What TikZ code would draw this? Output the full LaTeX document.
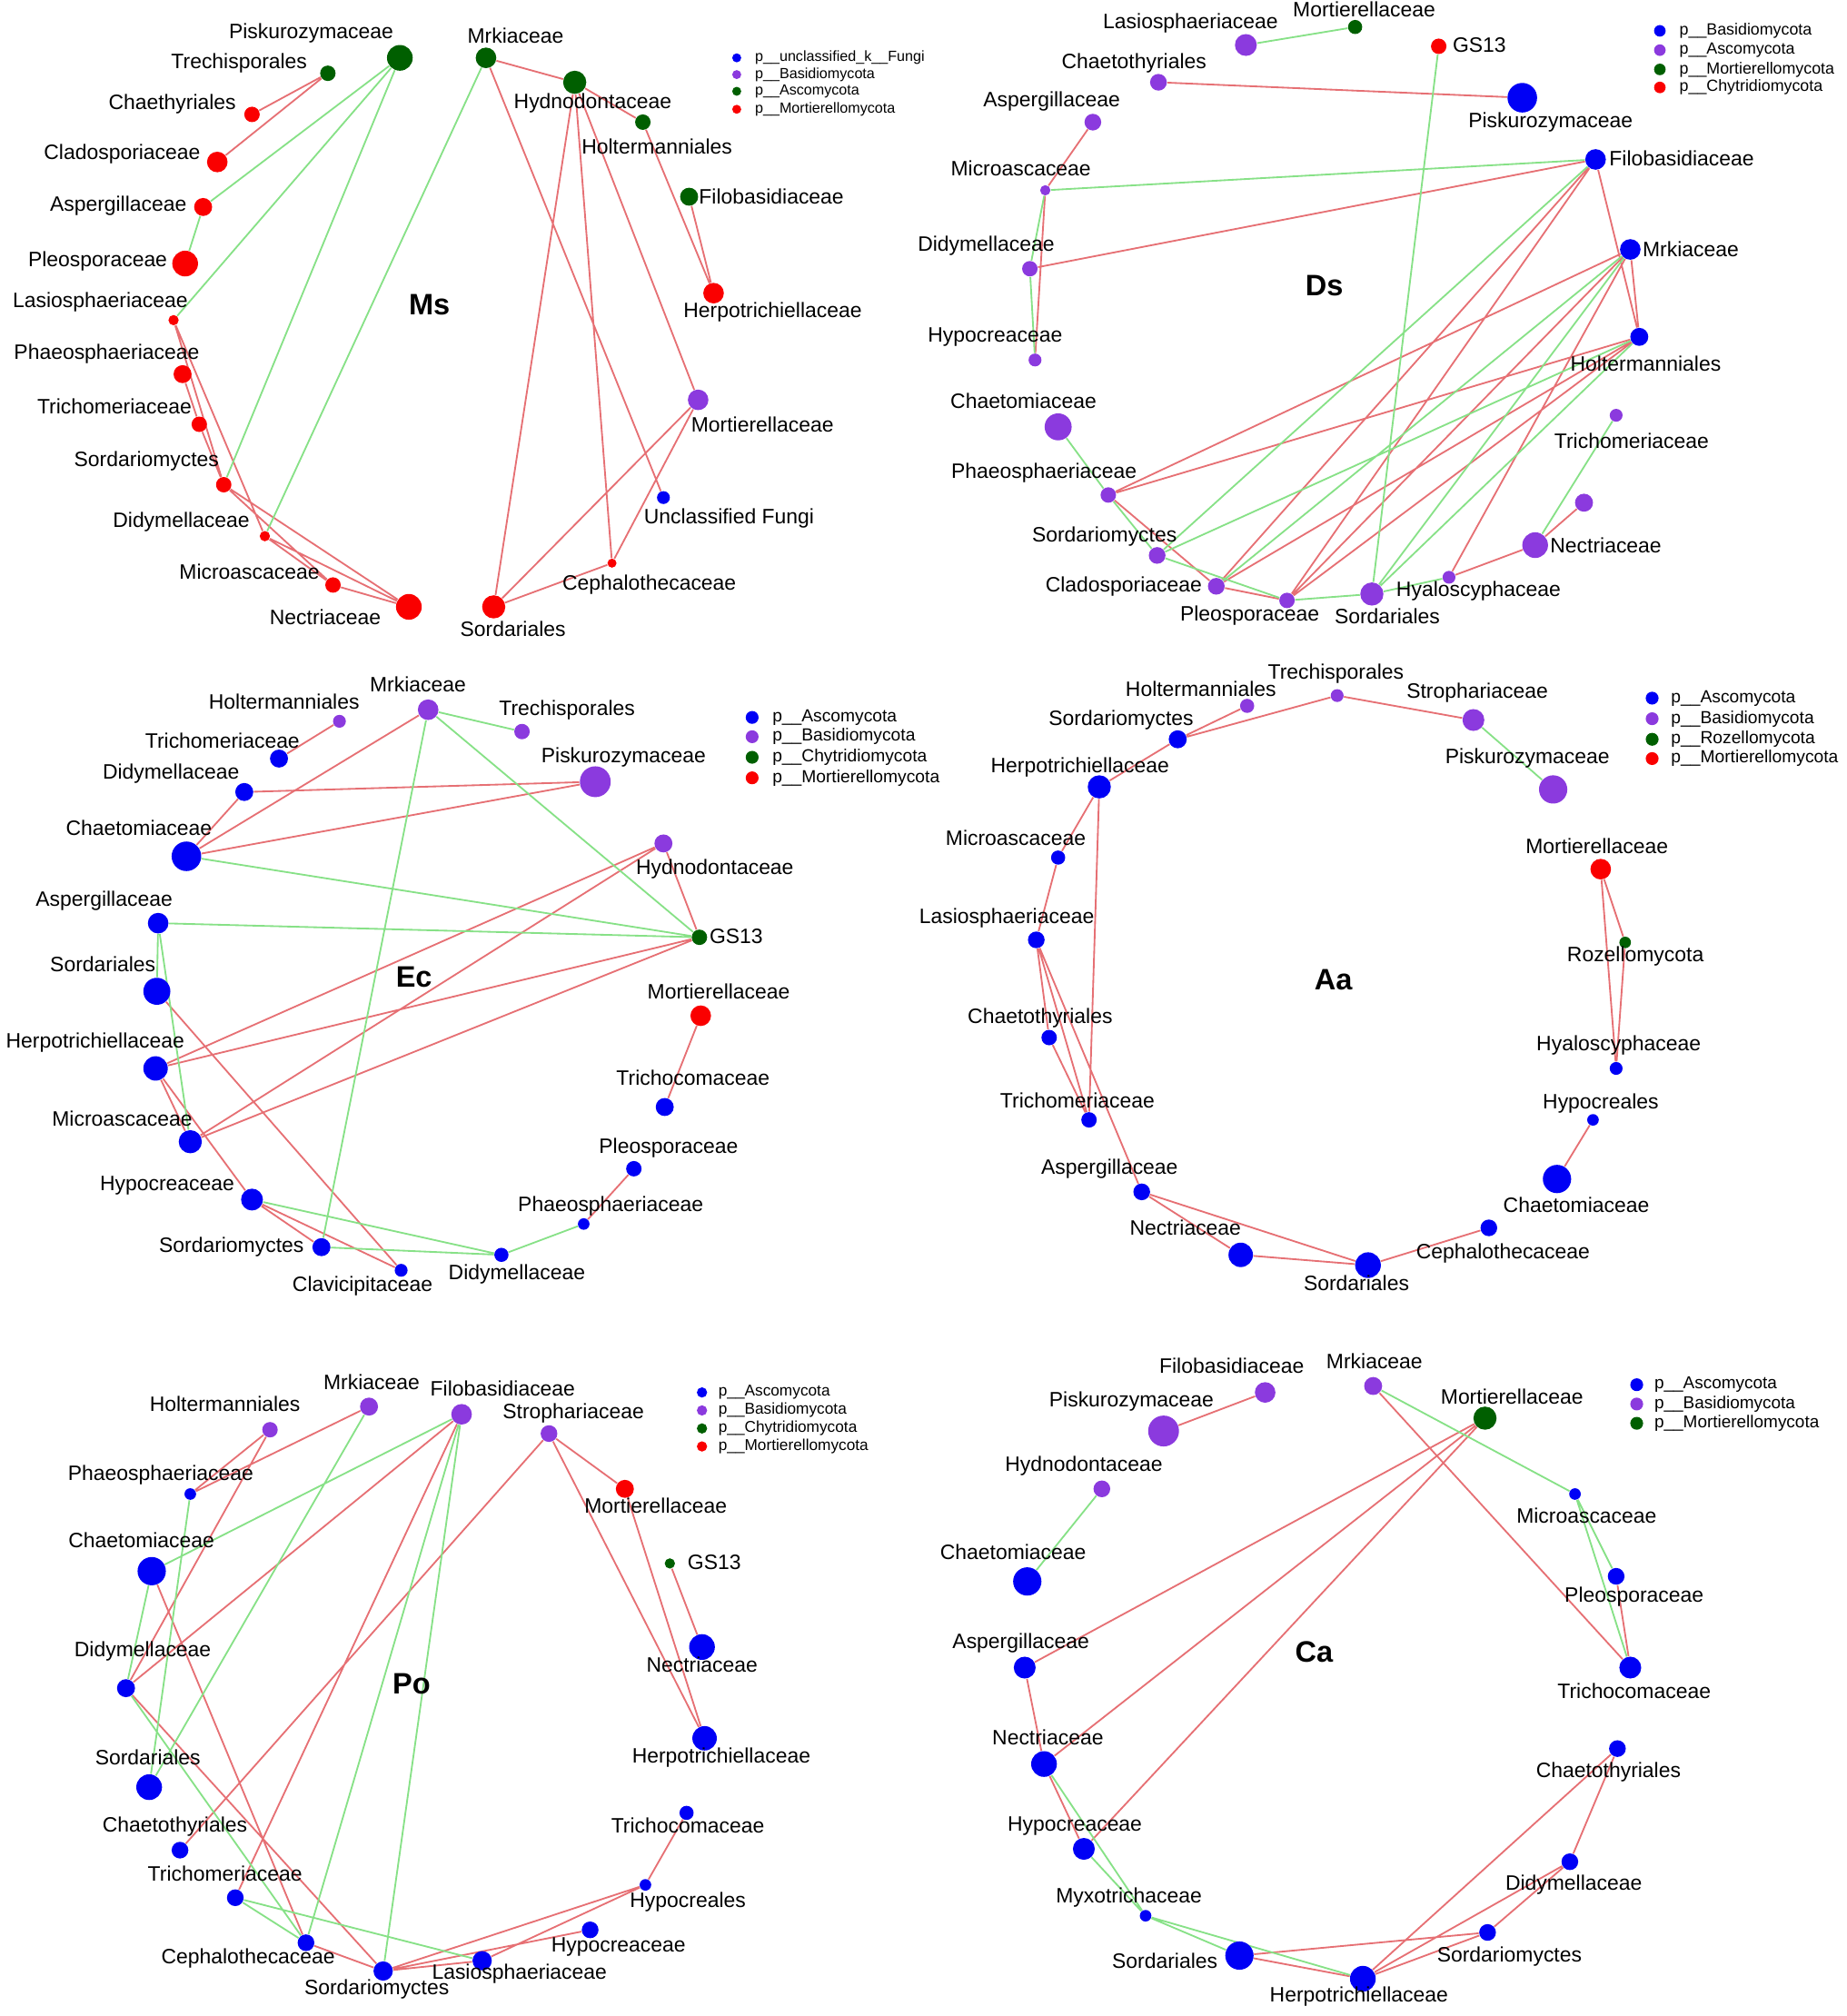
\documentclass[tikz,border=0pt]{standalone}
\usepackage{fontspec}
\setmainfont{Liberation Sans}
\usetikzlibrary{positioning}
\definecolor{fblue}{RGB}{0,0,245}
\definecolor{fpurple}{RGB}{139,58,222}
\definecolor{fgreen}{RGB}{0,95,0}
\definecolor{fred}{RGB}{250,0,0}
\definecolor{ered}{RGB}{230,112,116}
\definecolor{egreen}{RGB}{135,225,135}
\pgfdeclarelayer{edgelayer}
\pgfsetlayers{edgelayer,main}
\tikzset{
  vtx/.style={circle,inner sep=0pt,draw=none},
  vb/.style={vtx,fill=fblue,minimum size=#1},
  vp/.style={vtx,fill=fpurple,minimum size=#1},
  vg/.style={vtx,fill=fgreen,minimum size=#1},
  vr/.style={vtx,fill=fred,minimum size=#1},
  txt/.style={font=\fontsize{8.1}{9.5}\selectfont,inner sep=0.75pt},
  ttl/.style={font=\bfseries\fontsize{11.5}{13}\selectfont,inner sep=0.75pt},
  lgd/.style={anchor=west,inner sep=0.5pt,font=\fontsize{#1}{#1}\selectfont},
  redge/.style={draw=ered,line width=0.65pt},
  gedge/.style={draw=egreen,line width=0.65pt}
}
\begin{document}
\begin{tikzpicture}[x=0.5pt,y=0.5pt,yscale=-1,xscale=1]
\useasboundingbox (0,0) rectangle (1436,1568);

%%%%%%%% Ms
%Shape: Circle
\node[vg=10pt] (msPis) at (311,45) {};
\node[vg=6pt] (msTre) at (255,57) {};
\node[vr=6pt] (msCha) at (196,89) {};
\node[vr=8pt] (msCla) at (169,126) {};
\node[vr=7pt] (msAsp) at (158,161) {};
\node[vr=10pt] (msPle) at (144,205) {};
\node[vr=4pt] (msLas) at (135,249) {};
\node[vr=7pt] (msPha) at (142,291) {};
\node[vr=6pt] (msTri) at (155,330) {};
\node[vr=6pt] (msSom) at (174,377) {};
\node[vr=4pt] (msDid) at (206,417) {};
\node[vr=6pt] (msMic) at (259,455) {};
\node[vr=10pt] (msNec) at (318,472) {};
\node[vr=9pt] (msSol) at (384,472) {};
\node[vr=3.5pt] (msCep) at (476,438) {};
\node[vb=5pt] (msUnc) at (516,387) {};
\node[vp=8pt] (msMor) at (543,311) {};
\node[vr=8pt] (msHer) at (555,228) {};
\node[vg=7pt] (msFil) at (536,153) {};
\node[vg=6pt] (msHol) at (500,95) {};
\node[vg=9pt] (msHyd) at (447,64) {};
\node[vg=8pt] (msMrk) at (378,45) {};
% Text Node
\node[txt] (msPisT) at (242,26) {Piskurozymaceae};
\node[txt] (msTreT) at (186,49) {Trechisporales};
\node[txt] (msChaT) at (134,81) {Chaethyriales};
\node[txt] (msClaT) at (95,120) {Cladosporiaceae};
\node[txt] (msAspT) at (92,160) {Aspergillaceae};
\node[txt] (msPleT) at (76,203) {Pleosporaceae};
\node[txt] (msLasT) at (78,235) {Lasiosphaeriaceae};
\node[txt] (msPhaT) at (83,275) {Phaeosphaeriaceae};
\node[txt] (msTriT) at (89,316) {Trichomeriaceae};
\node[txt] (msSomT) at (114,359) {Sordariomyctes};
\node[txt] (msDidT) at (141,406) {Didymellaceae};
\node[txt] (msMicT) at (194,445) {Microascaceae};
\node[txt] (msNecT) at (253,480) {Nectriaceae};
\node[txt] (msSolT) at (399,489) {Sordariales};
\node[txt] (msCepT) at (505,455) {Cephalothecaceae};
\node[txt] (msUncT) at (567,403) {Unclassified Fungi};
\node[txt] (msMorT) at (593,330) {Mortierellaceae};
\node[txt] (msHerT) at (601,243) {Herpotrichiellaceae};
\node[txt] (msFilT) at (600,153) {Filobasidiaceae};
\node[txt] (msHolT) at (511,114) {Holtermanniales};
\node[txt] (msHydT) at (461,80) {Hydnodontaceae};
\node[txt] (msMrkT) at (401,28) {Mrkiaceae};
\node[ttl] (msName) at (334,237) {Ms};
% legend
\node[vb=3.5pt] (msK1) at (573,45) {};
\node[vp=3.5pt] (msK2) at (573,58) {};
\node[vg=3.5pt] (msK3) at (573,71) {};
\node[vr=3.5pt] (msK4) at (573,85) {};
\node[lgd=5.7,right=4.5pt of msK1] (msK1t) {p\_\_unclassified\_k\_\_Fungi};
\node[lgd=5.7,right=4.5pt of msK2] (msK2t) {p\_\_Basidiomycota};
\node[lgd=5.7,right=4.5pt of msK3] (msK3t) {p\_\_Ascomycota};
\node[lgd=5.7,right=4.5pt of msK4] (msK4t) {p\_\_Mortierellomycota};

%%%%%%%% Ds
%Shape: Circle
\node[vp=8.5pt] (dsLas) at (969,35) {};
\node[vg=5.5pt] (dsMor) at (1054,21) {};
\node[vr=6pt] (dsGS) at (1119,36) {};
\node[vp=6.5pt] (dsCht) at (901,64) {};
\node[vb=11.5pt] (dsPis) at (1184,76) {};
\node[vp=6.5pt] (dsAsp) at (850,95) {};
\node[vp=4pt] (dsMic) at (813,148) {};
\node[vb=8pt] (dsFil) at (1241,124) {};
\node[vp=6pt] (dsDid) at (801,209) {};
\node[vb=8pt] (dsMrk) at (1268,194) {};
\node[vp=5pt] (dsHyp) at (805,280) {};
\node[vb=7pt] (dsHol) at (1275,262) {};
\node[vp=10.5pt] (dsChm) at (823,332) {};
\node[vp=5pt] (dsTri) at (1257,323) {};
\node[vp=6pt] (dsPha) at (862,385) {};
\node[vp=7pt] (dsUnk) at (1232,391) {};
\node[vp=10pt] (dsNec) at (1194,424) {};
\node[vp=6.5pt] (dsSom) at (900,432) {};
\node[vp=6.5pt] (dsCla) at (946,456) {};
\node[vp=5pt] (dsHya) at (1127,449) {};
\node[vp=6pt] (dsPle) at (1001,467) {};
\node[vp=9pt] (dsSol) at (1067,462) {};
% Text Node
\node[txt] (dsLasT) at (926,18) {Lasiosphaeriaceae};
\node[txt] (dsMorT) at (1061,7) {Mortierellaceae};
\node[txt,anchor=west] (dsGST) at (1128,35) {GS13};
\node[txt] (dsChtT) at (882,49) {Chaetothyriales};
\node[txt] (dsPisT) at (1206,95) {Piskurozymaceae};
\node[txt] (dsAspT) at (818,79) {Aspergillaceae};
\node[txt] (dsMicT) at (794,131) {Microascaceae};
\node[txt] (dsFilT) at (1308,123) {Filobasidiaceae};
\node[txt] (dsDidT) at (767,191) {Didymellaceae};
\node[txt] (dsMrkT) at (1315,194) {Mrkiaceae};
\node[txt] (dsHypT) at (774,262) {Hypocreaceae};
\node[txt] (dsHolT) at (1280,283) {Holtermanniales};
\node[txt] (dsChmT) at (796,312) {Chaetomiaceae};
\node[txt] (dsTriT) at (1269,343) {Trichomeriaceae};
\node[txt] (dsPhaT) at (812,368) {Phaeosphaeriaceae};
\node[txt] (dsSomT) at (859,417) {Sordariomyctes};
\node[txt] (dsNecT) at (1249,424) {Nectriaceae};
\node[txt] (dsClaT) at (874,456) {Cladosporiaceae};
\node[txt] (dsHyaT) at (1150,460) {Hyaloscyphaceae};
\node[txt] (dsPleT) at (972,479) {Pleosporaceae};
\node[txt] (dsSolT) at (1079,479) {Sordariales};
\node[ttl] (dsName) at (1030,222) {Ds};
% legend
\node[vb=4.5pt] (dsK1) at (1291,24) {};
\node[vp=4.5pt] (dsK2) at (1291,39) {};
\node[vg=4.5pt] (dsK3) at (1291,54) {};
\node[vr=4.5pt] (dsK4) at (1291,68) {};
\node[lgd=6.3,right=4.5pt of dsK1] (dsK1t) {p\_\_Basidiomycota};
\node[lgd=6.3,right=4.5pt of dsK2] (dsK2t) {p\_\_Ascomycota};
\node[lgd=6.3,right=4.5pt of dsK3] (dsK3t) {p\_\_Mortierellomycota};
\node[lgd=6.3,right=4.5pt of dsK4] (dsK4t) {p\_\_Chytridiomycota};

%%%%%%%% Ec
%Shape: Circle
\node[vp=5pt] (ecHol) at (264,561) {};
\node[vp=8pt] (ecMrk) at (333,552) {};
\node[vp=6pt] (ecTre) at (406,569) {};
\node[vb=7pt] (ecTri) at (217,590) {};
\node[vp=12pt] (ecPis) at (463,608) {};
\node[vb=7pt] (ecDid) at (190,616) {};
\node[vb=11.5pt] (ecChm) at (145,666) {};
\node[vp=7pt] (ecHyd) at (516,656) {};
\node[vb=8pt] (ecAsp) at (123,718) {};
\node[vg=6pt] (ecGS) at (544,729) {};
\node[vb=10.5pt] (ecSol) at (122,771) {};
\node[vr=8pt] (ecMor) at (545,790) {};
\node[vb=9.5pt] (ecHer) at (121,831) {};
\node[vb=7pt] (ecTrc) at (517,861) {};
\node[vb=9pt] (ecMic) at (148,888) {};
\node[vb=6pt] (ecPle) at (493,909) {};
\node[vb=8.5pt] (ecHyp) at (196,933) {};
\node[vb=4.5pt] (ecPha) at (454,952) {};
\node[vb=7pt] (ecSom) at (250,970) {};
\node[vb=5.5pt] (ecDit) at (390,976) {};
\node[vb=5pt] (ecCla) at (312,988) {};
% Text Node
\node[txt] (ecHolT) at (221,546) {Holtermanniales};
\node[txt] (ecMrkT) at (325,532) {Mrkiaceae};
\node[txt] (ecTreT) at (441,552) {Trechisporales};
\node[txt] (ecTriT) at (173,576) {Trichomeriaceae};
\node[txt] (ecPisT) at (485,589) {Piskurozymaceae};
\node[txt] (ecDidT) at (133,602) {Didymellaceae};
\node[txt] (ecChmT) at (108,644) {Chaetomiaceae};
\node[txt] (ecHydT) at (556,676) {Hydnodontaceae};
\node[txt] (ecAspT) at (81,701) {Aspergillaceae};
\node[txt,anchor=west] (ecGST) at (550,728) {GS13};
\node[txt] (ecSolT) at (80,750) {Sordariales};
\node[txt] (ecMorT) at (559,771) {Mortierellaceae};
\node[txt] (ecHerT) at (74,811) {Herpotrichiellaceae};
\node[txt] (ecTrcT) at (539,838) {Trichocomaceae};
\node[txt] (ecMicT) at (95,870) {Microascaceae};
\node[txt] (ecPleT) at (520,893) {Pleosporaceae};
\node[txt] (ecHypT) at (130,922) {Hypocreaceae};
\node[txt] (ecPhaT) at (475,938) {Phaeosphaeriaceae};
\node[txt] (ecSomT) at (180,970) {Sordariomyctes};
\node[txt] (ecDitT) at (402,991) {Didymellaceae};
\node[txt] (ecClaT) at (282,1000) {Clavicipitaceae};
\node[ttl] (ecName) at (322,760) {Ec};
% legend
\node[vb=5pt] (ecK1) at (585,558) {};
\node[vp=5pt] (ecK2) at (585,573) {};
\node[vg=5pt] (ecK3) at (585,589) {};
\node[vr=5pt] (ecK4) at (585,605) {};
\node[lgd=6.8,right=4.5pt of ecK1] (ecK1t) {p\_\_Ascomycota};
\node[lgd=6.8,right=4.5pt of ecK2] (ecK2t) {p\_\_Basidiomycota};
\node[lgd=6.8,right=4.5pt of ecK3] (ecK3t) {p\_\_Chytridiomycota};
\node[lgd=6.8,right=4.5pt of ecK4] (ecK4t) {p\_\_Mortierellomycota};

%%%%%%%% Aa
%Shape: Circle
\node[vp=5pt] (aaTre) at (1040,541) {};
\node[vp=5.5pt] (aaHol) at (970,549) {};
\node[vp=8.5pt] (aaStr) at (1146,560) {};
\node[vb=7pt] (aaSom) at (916,575) {};
\node[vb=9pt] (aaHer) at (855,612) {};
\node[vp=11pt] (aaPis) at (1208,614) {};
\node[vr=8pt] (aaMor) at (1245,676) {};
\node[vb=5.5pt] (aaMic) at (823,667) {};
\node[vb=6.5pt] (aaLas) at (806,731) {};
\node[vg=4.5pt] (aaRoz) at (1264,733) {};
\node[vb=6pt] (aaCht) at (816,807) {};
\node[vb=5pt] (aaHya) at (1257,831) {};
\node[vb=6pt] (aaTri) at (847,871) {};
\node[vb=4.5pt] (aaHyl) at (1239,871) {};
\node[vb=11pt] (aaChm) at (1211,917) {};
\node[vb=6.5pt] (aaAsp) at (888,927) {};
\node[vb=6.5pt] (aaCep) at (1158,955) {};
\node[vb=9.5pt] (aaNec) at (965,976) {};
\node[vb=10pt] (aaSol) at (1064,984) {};
% Text Node
\node[txt] (aaTreT) at (1039,524) {Trechisporales};
\node[txt] (aaHolT) at (934,536) {Holtermanniales};
\node[txt] (aaStrT) at (1149,539) {Strophariaceae};
\node[txt] (aaSomT) at (872,560) {Sordariomyctes};
\node[txt] (aaHerT) at (840,597) {Herpotrichiellaceae};
\node[txt] (aaPisT) at (1188,590) {Piskurozymaceae};
\node[txt] (aaMorT) at (1242,658) {Mortierellaceae};
\node[txt] (aaMicT) at (790,652) {Microascaceae};
\node[txt] (aaLasT) at (783,714) {Lasiosphaeriaceae};
\node[txt] (aaRozT) at (1272,744) {Rozellomycota};
\node[txt] (aaChtT) at (809,792) {Chaetothyriales};
\node[txt] (aaHyaT) at (1259,813) {Hyaloscyphaceae};
\node[txt] (aaTriT) at (838,856) {Trichomeriaceae};
\node[txt] (aaHylT) at (1245,858) {Hypocreales};
\node[txt] (aaAspT) at (863,909) {Aspergillaceae};
\node[txt] (aaChmT) at (1226,937) {Chaetomiaceae};
\node[txt] (aaNecT) at (922,955) {Nectriaceae};
\node[txt] (aaCepT) at (1169,975) {Cephalothecaceae};
\node[txt] (aaSolT) at (1055,998) {Sordariales};
\node[ttl] (aaName) at (1037,762) {Aa};
% legend
\node[vb=5pt] (aaK1) at (1285,543) {};
\node[vp=5pt] (aaK2) at (1285,559) {};
\node[vg=5pt] (aaK3) at (1285,575) {};
\node[vr=5pt] (aaK4) at (1285,590) {};
\node[lgd=6.8,right=4pt of aaK1] (aaK1t) {p\_\_Ascomycota};
\node[lgd=6.8,right=4pt of aaK2] (aaK2t) {p\_\_Basidiomycota};
\node[lgd=6.8,right=4pt of aaK3] (aaK3t) {p\_\_Rozellomycota};
\node[lgd=6.8,right=4pt of aaK4] (aaK4t) {p\_\_Mortierellomycota};

%%%%%%%% Po
%Shape: Circle
\node[vp=6pt] (poHol) at (210,1112) {};
\node[vp=7pt] (poMrk) at (287,1094) {};
\node[vp=8pt] (poFil) at (359,1100) {};
\node[vp=6.5pt] (poStr) at (427,1115) {};
\node[vb=4.5pt] (poPha) at (148,1162) {};
\node[vr=7pt] (poMor) at (486,1158) {};
\node[vg=4pt] (poGS) at (521,1216) {};
\node[vb=11pt] (poChm) at (118,1222) {};
\node[vb=10pt] (poNec) at (546,1281) {};
\node[vb=7pt] (poDid) at (98,1313) {};
\node[vb=9.5pt] (poHer) at (548,1352) {};
\node[vb=10pt] (poSol) at (116,1390) {};
\node[vb=5.5pt] (poTrc) at (534,1410) {};
\node[vb=6.5pt] (poCht) at (140,1439) {};
\node[vb=6.5pt] (poTri) at (183,1476) {};
\node[vb=4.5pt] (poHyl) at (502,1466) {};
\node[vb=6.5pt] (poHyp) at (459,1501) {};
\node[vb=6.5pt] (poCep) at (238,1511) {};
\node[vb=7.5pt] (poLas) at (375,1525) {};
\node[vb=7.5pt] (poSom) at (298,1533) {};
% Text Node
\node[txt] (poHolT) at (175,1092) {Holtermanniales};
\node[txt] (poMrkT) at (289,1075) {Mrkiaceae};
\node[txt] (poFilT) at (391,1080) {Filobasidiaceae};
\node[txt] (poStrT) at (446,1099) {Strophariaceae};
\node[txt] (poPhaT) at (125,1147) {Phaeosphaeriaceae};
\node[txt] (poMorT) at (510,1171) {Mortierellaceae};
\node[txt,anchor=west] (poGST) at (533,1215) {GS13};
\node[txt] (poChmT) at (110,1198) {Chaetomiaceae};
\node[txt] (poNecT) at (546,1295) {Nectriaceae};
\node[txt] (poDidT) at (111,1284) {Didymellaceae};
\node[txt] (poHerT) at (561,1367) {Herpotrichiellaceae};
\node[txt] (poSolT) at (115,1367) {Sordariales};
\node[txt] (poTrcT) at (535,1420) {Trichocomaceae};
\node[txt] (poChtT) at (136,1421) {Chaetothyriales};
\node[txt] (poTriT) at (175,1457) {Trichomeriaceae};
\node[txt] (poHylT) at (535,1479) {Hypocreales};
\node[txt] (poHypT) at (481,1514) {Hypocreaceae};
\node[txt] (poCepT) at (193,1523) {Cephalothecaceae};
\node[txt] (poLasT) at (404,1535) {Lasiosphaeriaceae};
\node[txt] (poSomT) at (293,1547) {Sordariomyctes};
\node[ttl] (poName) at (320,1310) {Po};
% legend
\node[vb=4pt] (poK1) at (546,1083) {};
\node[vp=4pt] (poK2) at (546,1097) {};
\node[vg=4pt] (poK3) at (546,1111) {};
\node[vr=4pt] (poK4) at (546,1125) {};
\node[lgd=6.1,right=3.5pt of poK1] (poK1t) {p\_\_Ascomycota};
\node[lgd=6.1,right=3.5pt of poK2] (poK2t) {p\_\_Basidiomycota};
\node[lgd=6.1,right=3.5pt of poK3] (poK3t) {p\_\_Chytridiomycota};
\node[lgd=6.1,right=3.5pt of poK4] (poK4t) {p\_\_Mortierellomycota};

%%%%%%%% Ca
%Shape: Circle
\node[vp=8pt] (caFil) at (984,1083) {};
\node[vp=7pt] (caMrk) at (1068,1078) {};
\node[vp=12pt] (caPis) at (905,1113) {};
\node[vg=9pt] (caMor) at (1155,1103) {};
\node[vp=6.5pt] (caHyd) at (857,1158) {};
\node[vb=4.5pt] (caMic) at (1225,1162) {};
\node[vb=11pt] (caChm) at (799,1230) {};
\node[vb=6.5pt] (caPle) at (1257,1226) {};
\node[vb=8.5pt] (caAsp) at (797,1297) {};
\node[vb=8.5pt] (caTrc) at (1268,1297) {};
\node[vb=10pt] (caNec) at (812,1372) {};
\node[vb=6.5pt] (caCht) at (1258,1360) {};
\node[vb=8.5pt] (caHyp) at (843,1438) {};
\node[vb=6.5pt] (caDid) at (1221,1448) {};
\node[vb=4.5pt] (caMyx) at (891,1490) {};
\node[vb=6.5pt] (caSom) at (1157,1503) {};
\node[vb=11pt] (caSol) at (964,1521) {};
\node[vb=10pt] (caHer) at (1060,1539) {};
% Text Node
\node[txt] (caFilT) at (958,1062) {Filobasidiaceae};
\node[txt] (caMrkT) at (1069,1059) {Mrkiaceae};
\node[txt] (caPisT) at (880,1090) {Piskurozymaceae};
\node[txt] (caMorT) at (1176,1086) {Mortierellaceae};
\node[txt] (caHydT) at (843,1140) {Hydnodontaceae};
\node[txt] (caMicT) at (1234,1179) {Microascaceae};
\node[txt] (caChmT) at (788,1207) {Chaetomiaceae};
\node[txt] (caPleT) at (1271,1242) {Pleosporaceae};
\node[txt] (caAspT) at (794,1278) {Aspergillaceae};
\node[txt] (caTrcT) at (1271,1315) {Trichocomaceae};
\node[txt] (caNecT) at (815,1351) {Nectriaceae};
\node[txt] (caChtT) at (1251,1378) {Chaetothyriales};
\node[txt] (caHypT) at (836,1420) {Hypocreaceae};
\node[txt] (caDidT) at (1224,1466) {Didymellaceae};
\node[txt] (caMyxT) at (878,1476) {Myxotrichaceae};
\node[txt] (caSomT) at (1174,1522) {Sordariomyctes};
\node[txt] (caSolT) at (906,1525) {Sordariales};
\node[txt] (caHerT) at (1057,1553) {Herpotrichiellaceae};
\node[ttl] (caName) at (1022,1285) {Ca};
% legend
\node[vb=5pt] (caK1) at (1273,1077) {};
\node[vp=5pt] (caK2) at (1273,1092) {};
\node[vg=5pt] (caK3) at (1273,1107) {};
\node[lgd=6.7,right=3.5pt of caK1] (caK1t) {p\_\_Ascomycota};
\node[lgd=6.7,right=3.5pt of caK2] (caK2t) {p\_\_Basidiomycota};
\node[lgd=6.7,right=3.5pt of caK3] (caK3t) {p\_\_Mortierellomycota};

%%%%%%%% edges
\begin{pgfonlayer}{edgelayer}
% Ms
\draw[redge] (msTre) -- (msCha) (msTre) -- (msCla) (msMrk) -- (msHyd) (msMrk) -- (msUnc)
  (msHyd) -- (msHol) (msHyd) -- (msSol) (msHyd) -- (msCep) (msHyd) -- (msMor)
  (msHol) -- (msHer) (msFil) -- (msHer) (msMor) -- (msSol) (msMor) -- (msCep) (msCep) -- (msSol)
  (msLas) -- (msDid) (msLas) -- (msSom) (msPha) -- (msTri) (msTri) -- (msSom)
  (msSom) -- (msNec) (msSom) -- (msMic) (msDid) -- (msNec) (msDid) -- (msMic) (msMic) -- (msNec);
\draw[gedge] (msPis) -- (msAsp) (msPis) -- (msLas) (msPis) -- (msSom) (msMrk) -- (msDid) (msAsp) -- (msPle);
% Ds
\draw[redge] (dsCht) -- (dsPis) (dsAsp) -- (dsMic) (dsMic) -- (dsHyp) (dsDid) -- (dsFil)
  (dsFil) -- (dsHol) (dsMrk) -- (dsHol) (dsFil) -- (dsCla) (dsFil) -- (dsPle)
  (dsMrk) -- (dsPha) (dsMrk) -- (dsPle) (dsMrk) -- (dsHya) (dsHol) -- (dsPha) (dsHol) -- (dsPle)
  (dsHol) -- (dsCla) (dsPha) -- (dsCla) (dsCla) -- (dsPle) (dsUnk) -- (dsNec) (dsNec) -- (dsHya);
\draw[gedge] (dsLas) -- (dsMor) (dsGS) -- (dsSol) (dsMic) -- (dsFil) (dsMic) -- (dsDid) (dsDid) -- (dsHyp)
  (dsChm) -- (dsPha) (dsPha) -- (dsSom) (dsSom) -- (dsPle) (dsPle) -- (dsSol) (dsTri) -- (dsNec)
  (dsFil) -- (dsSom) (dsMrk) -- (dsSol) (dsMrk) -- (dsCla) (dsHol) -- (dsSom) (dsHol) -- (dsSol) (dsSol) -- (dsHya);
% Ec
\draw[redge] (ecHol) -- (ecTri) (ecMrk) -- (ecChm) (ecDid) -- (ecPis) (ecDid) -- (ecChm) (ecChm) -- (ecPis)
  (ecHyd) -- (ecGS) (ecHyd) -- (ecHer) (ecHyd) -- (ecMic) (ecGS) -- (ecHer) (ecGS) -- (ecMic)
  (ecSol) -- (ecCla) (ecHer) -- (ecMic) (ecHer) -- (ecHyp) (ecHyp) -- (ecSom) (ecHyp) -- (ecCla)
  (ecPha) -- (ecPle) (ecMor) -- (ecTrc);
\draw[gedge] (ecMrk) -- (ecTre) (ecMrk) -- (ecGS) (ecMrk) -- (ecSom) (ecChm) -- (ecGS) (ecAsp) -- (ecGS)
  (ecAsp) -- (ecSol) (ecAsp) -- (ecMic) (ecHyp) -- (ecDit) (ecSom) -- (ecDit) (ecDit) -- (ecPha);
% Aa
\draw[redge] (aaHol) -- (aaSom) (aaTre) -- (aaSom) (aaTre) -- (aaStr) (aaSom) -- (aaHer) (aaHer) -- (aaMic)
  (aaHer) -- (aaTri) (aaMic) -- (aaLas) (aaLas) -- (aaCht) (aaLas) -- (aaTri) (aaLas) -- (aaAsp)
  (aaCht) -- (aaTri) (aaAsp) -- (aaNec) (aaAsp) -- (aaSol) (aaNec) -- (aaSol) (aaSol) -- (aaCep)
  (aaHyl) -- (aaChm) (aaMor) -- (aaRoz) (aaMor) -- (aaHya) (aaRoz) -- (aaHya);
\draw[gedge] (aaStr) -- (aaPis);
% Po
\draw[redge] (poHol) -- (poPha) (poHol) -- (poDid) (poMrk) -- (poPha) (poFil) -- (poDid) (poFil) -- (poTri)
  (poStr) -- (poCht) (poStr) -- (poMor) (poStr) -- (poHer) (poMor) -- (poHer) (poGS) -- (poNec)
  (poChm) -- (poCep) (poDid) -- (poSom) (poCep) -- (poSom) (poSom) -- (poLas) (poSom) -- (poHyp)
  (poSom) -- (poHyl) (poLas) -- (poHyl) (poHyl) -- (poTrc);
\draw[gedge] (poMrk) -- (poSol) (poFil) -- (poChm) (poFil) -- (poCep) (poFil) -- (poSom) (poPha) -- (poSol)
  (poChm) -- (poDid) (poDid) -- (poCep) (poTri) -- (poCep) (poTri) -- (poLas);
% Ca
\draw[redge] (caPis) -- (caFil) (caMrk) -- (caTrc) (caMor) -- (caAsp) (caMor) -- (caNec) (caMor) -- (caHyp)
  (caPle) -- (caTrc) (caAsp) -- (caNec) (caNec) -- (caHyp) (caSol) -- (caHer) (caSol) -- (caSom)
  (caHer) -- (caCht) (caHer) -- (caDid) (caHer) -- (caSom) (caCht) -- (caDid) (caDid) -- (caSom);
\draw[gedge] (caHyd) -- (caChm) (caMrk) -- (caMic) (caMic) -- (caPle) (caMic) -- (caTrc) (caNec) -- (caMyx)
  (caHyp) -- (caMyx) (caMyx) -- (caSol) (caMyx) -- (caHer);
\end{pgfonlayer}

\end{tikzpicture}
\end{document}
